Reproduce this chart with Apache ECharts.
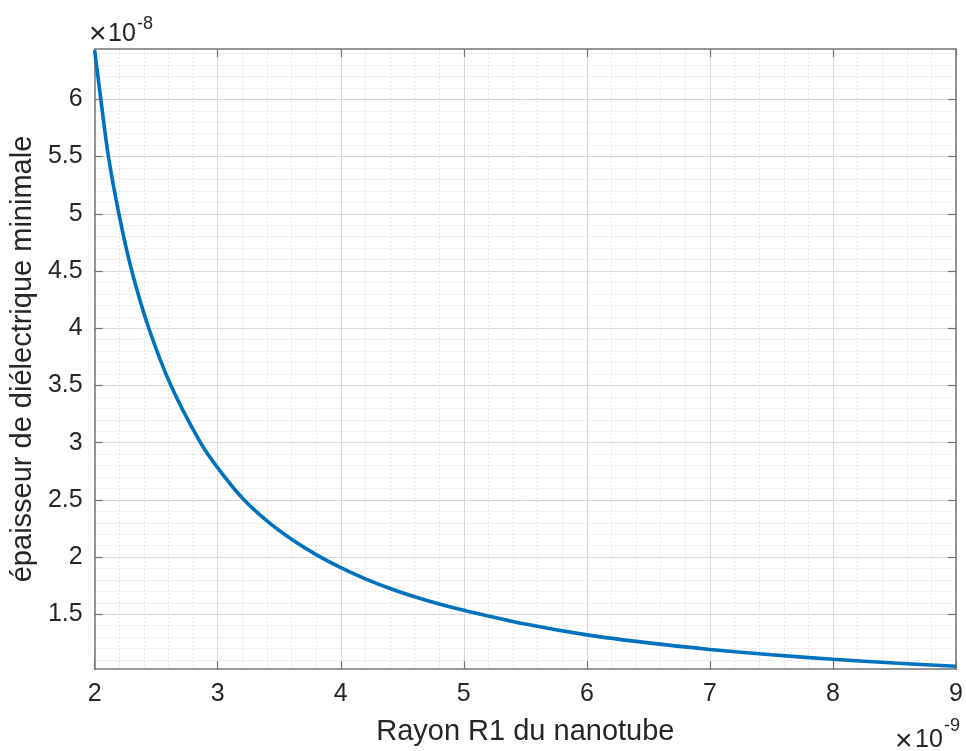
<!DOCTYPE html>
<html>
<head>
<meta charset="utf-8">
<script src="https://cdn.jsdelivr.net/npm/echarts@6/dist/echarts.min.js"></script>
<style>
html,body{margin:0;padding:0;background:#fff;overflow:hidden;}
#chart{width:100vw;height:100vh;}
</style>
</head>
<body>
<div id="chart"></div>
<script>
// Rayon R1 (x 1e-9 m) and épaisseur minimale (x 1e-8 m)
const radius = [2.0, 2.05, 2.112, 2.197, 2.302, 2.44, 2.62, 2.86, 3.0, 3.2, 3.4, 3.6, 3.8, 4.0, 4.2, 4.4, 4.6, 4.8, 5.0, 5.5, 6.0, 6.5, 7.0, 7.5, 8.0, 8.5, 9.0];
const thickness = [6.43, 6.0, 5.5, 5.0, 4.5, 4.0, 3.5, 3.0, 2.78, 2.516, 2.316, 2.156, 2.022, 1.908, 1.81, 1.726, 1.653, 1.59, 1.535, 1.415, 1.32, 1.25, 1.193, 1.146, 1.107, 1.074, 1.046];

// tick values
const yMajorTicks = [1.5, 2, 2.5, 3, 3.5, 4, 4.5, 5, 5.5, 6];
const yMinorTicks = [1.1, 1.2, 1.3, 1.4, 1.6, 1.7, 1.8, 1.9, 2.1, 2.2, 2.3, 2.4, 2.6, 2.7, 2.8, 2.9,
  3.1, 3.2, 3.3, 3.4, 3.6, 3.7, 3.8, 3.9, 4.1, 4.2, 4.3, 4.4, 4.6, 4.7, 4.8, 4.9,
  5.1, 5.2, 5.3, 5.4, 5.6, 5.7, 5.8, 5.9, 6.1, 6.2, 6.3, 6.4];
const xRange = [2, 9];
const yRange = [1.022, 6.44];
const xExponent = '-9';
const yExponent = '-8';
const xName = 'Rayon R1 du nanotube';
const yName = 'épaisseur de diélectrique minimale';

const FONT = 'Liberation Sans, Arial, Helvetica, sans-serif';
const AXIS_COLOR = '#747474';
const TEXT_COLOR = '#262626';
const MAJOR_GRID = '#dadada';
const MINOR_GRID = '#e4e4e4';

const points = radius.map((r, i) => [r, thickness[i]]);

const chart = echarts.init(document.getElementById('chart'), null, {renderer: 'canvas'});

const option = {
  animation: false,
  backgroundColor: '#ffffff',
  grid: {left: 92, right: 4, top: 49, bottom: 78, containLabel: false},
  xAxis: [
    {
      type: 'value', position: 'bottom', min: xRange[0], max: xRange[1], interval: 1,
      axisLine: {show: true, lineStyle: {color: AXIS_COLOR, width: 1.5}},
      axisTick: {show: true, inside: true, length: 8, lineStyle: {color: AXIS_COLOR, width: 1.2}},
      axisLabel: {show: true, fontFamily: FONT, fontSize: 25, color: TEXT_COLOR, margin: 13},
      splitLine: {show: true, lineStyle: {color: MAJOR_GRID, width: 1}},
      minorTick: {show: false, splitNumber: 5},
      minorSplitLine: {show: true, lineStyle: {color: MINOR_GRID, width: 1, type: [2, 2]}},
      name: xName, nameLocation: 'middle', nameGap: 48,
      nameTextStyle: {fontFamily: FONT, fontSize: 29, color: TEXT_COLOR}
    },
    {
      type: 'value', position: 'top', min: xRange[0], max: xRange[1], interval: 1,
      axisLine: {show: true, lineStyle: {color: AXIS_COLOR, width: 1.5}},
      axisTick: {show: true, inside: true, length: 8, lineStyle: {color: AXIS_COLOR, width: 1.2}},
      axisLabel: {show: false},
      splitLine: {show: false}
    }
  ],
  yAxis: [
    {
      type: 'value', position: 'left', min: yRange[0], max: yRange[1],
      axisLine: {show: true, lineStyle: {color: AXIS_COLOR, width: 1.5}},
      axisTick: {show: true, inside: true, length: 8, customValues: yMajorTicks, lineStyle: {color: AXIS_COLOR, width: 1.2}},
      axisLabel: {show: true, customValues: yMajorTicks, fontFamily: FONT, fontSize: 25, color: TEXT_COLOR, margin: 12},
      splitLine: {show: true, lineStyle: {color: MAJOR_GRID, width: 1}},
      name: yName, nameLocation: 'middle', nameGap: 55, nameRotate: 90,
      nameTextStyle: {fontFamily: FONT, fontSize: 29, color: TEXT_COLOR}
    },
    {
      type: 'value', position: 'right', min: yRange[0], max: yRange[1],
      axisLine: {show: true, lineStyle: {color: AXIS_COLOR, width: 1.5}},
      axisTick: {show: true, inside: true, length: 8, customValues: yMajorTicks, lineStyle: {color: AXIS_COLOR, width: 1.2}},
      axisLabel: {show: false, customValues: yMajorTicks},
      splitLine: {show: false}
    },
    {
      type: 'value', position: 'right', min: yRange[0], max: yRange[1],
      axisLine: {show: false},
      axisTick: {show: false, customValues: yMinorTicks},
      axisLabel: {show: false, customValues: yMinorTicks},
      splitLine: {show: true, lineStyle: {color: MINOR_GRID, width: 1, type: [2, 2]}}
    }
  ],
  series: [
    {
      type: 'line', xAxisIndex: 0, yAxisIndex: 0,
      data: points, showSymbol: false, smooth: 0.3,
      lineStyle: {color: '#0072BD', width: 3.6},
      z: 10
    }
  ],
  graphic: [
    {type: 'text', left: 89, top: 20, style: {text: '×', font: '30px ' + FONT, fill: TEXT_COLOR}},
    {type: 'text', left: 108, top: 22, style: {text: '10', font: '25px ' + FONT, fill: TEXT_COLOR}},
    {type: 'text', left: 137, top: 15, style: {text: yExponent, font: '18px ' + FONT, fill: TEXT_COLOR}},
    {type: 'text', left: 895, top: 727, style: {text: '×', font: '30px ' + FONT, fill: TEXT_COLOR}},
    {type: 'text', left: 915, top: 728, style: {text: '10', font: '25px ' + FONT, fill: TEXT_COLOR}},
    {type: 'text', left: 944, top: 717, style: {text: xExponent, font: '18px ' + FONT, fill: TEXT_COLOR}}
  ]
};

chart.setOption(option);
</script>
</body>
</html>
